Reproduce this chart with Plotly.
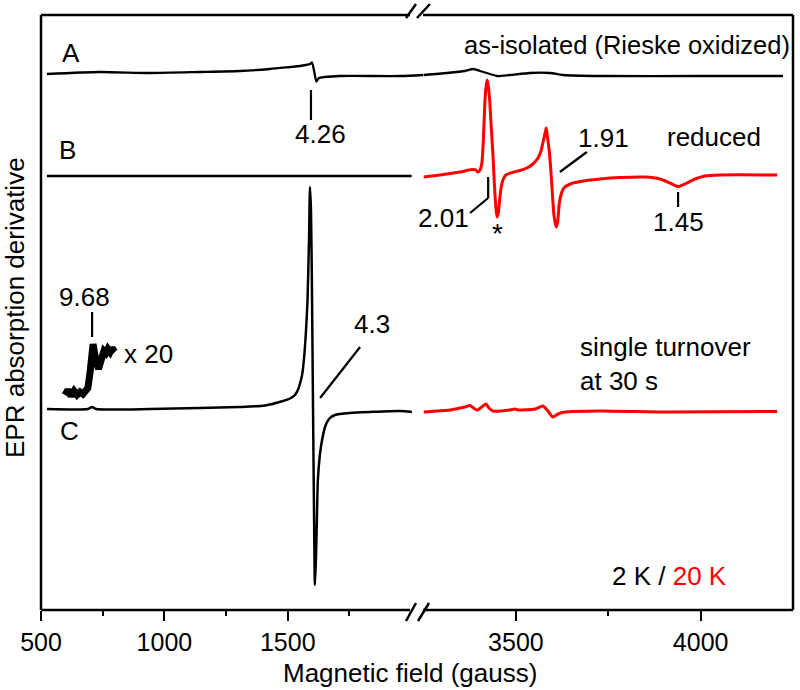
import plotly.graph_objects as go

# ---------------- data (field in gauss, signal in arbitrary units relative to each trace's baseline) ----------------
# Trace A: as-isolated, 2 K (black), spans both segments
a_left_field = [524, 739, 942, 1144, 1306, 1428, 1509, 1549, 1573, 1590, 1598, 1606, 1616, 1626, 1650, 1712, 1955, 2050]
a_left_sig   = [0.4, 0.8, 0.6, 0.8, 1.0, 1.4, 1.8, 2.0, 2.2, 2.4, 2.7, 1.2, -1.1, -0.4, -0.2, 0.0, 0.0, 0.2]
a_right_field = [3250, 3314, 3362, 3384, 3403, 3430, 3449, 3484, 3538, 3592, 3628, 3728, 3998, 4223]
a_right_sig   = [0.2, 0.6, 1.0, 1.4, 1.0, 0.4, 0.0, 0.2, 0.6, 0.6, 0.2, 0.0, 0.0, 0.0]

# Trace B: reduced; 2 K (black, low field) and 20 K (red, high field)
b_left_field = [524, 800, 1200, 1600, 2002]
b_left_sig   = [0.0, 0.0, 0.0, 0.0, 0.0]
b_right_field = [3250, 3295, 3349, 3381, 3392, 3397, 3403, 3408, 3412, 3416, 3419, 3422, 3425, 3429, 3433,
                 3438, 3442, 3446, 3449, 3452, 3456, 3460, 3465, 3473, 3490, 3511, 3530, 3546, 3560, 3568,
                 3573, 3579, 3582, 3584, 3590, 3595, 3599, 3603, 3609, 3613, 3617, 3622, 3630, 3647, 3674,
                 3728, 3782, 3850, 3890, 3917, 3939, 3960, 3985, 4012, 4053, 4207]
b_right_sig   = [-0.2, 0.2, 0.8, 1.3, 1.2, 0.8, 1.2, 2.6, 7.2, 14.6, 17.6, 19.2, 18.2, 15.2, 10.2,
                 4.2, -1.8, -6.4, -8.2, -7.6, -4.8, -2.4, -0.8, 0.2, 0.7, 1.1, 1.6, 2.4, 3.6, 5.0,
                 6.6, 8.6, 9.6, 8.6, 5.2, 0.8, -3.8, -7.8, -10.2, -9.2, -5.8, -3.8, -2.4, -1.6, -1.1,
                 -0.6, -0.3, -0.2, -0.6, -1.4, -2.1, -1.5, -0.6, 0.0, 0.2, 0.2]

# Trace C: single turnover at 30 s; 2 K (black) and 20 K (red)
c_left_field = [524, 690, 707, 723, 942, 1144, 1306, 1408, 1481, 1509, 1529, 1541, 1549, 1558, 1566, 1574,
                1580, 1586, 1590, 1594, 1598, 1602, 1606, 1610, 1614, 1618, 1622, 1630, 1639, 1651,
                1667, 1691, 1752, 1833, 1955, 2003]
c_left_sig   = [0.2, 0.2, 0.6, 0.2, 0.2, 0.4, 0.6, 0.9, 1.8, 2.3, 3.0, 4.0, 5.2, 7.0, 10.4, 16.0,
                22.0, 34.0, 44.6, 40.0, 24.0, 2.0, -18.6, -35.0, -30.0, -22.0, -14.0, -9.0, -6.0, -3.4,
                -1.8, -1.0, -0.6, -0.4, -0.2, -0.4]
# x 20 magnified low-field region (g = 9.68)
c_zoom_field = [597, 609, 622, 634, 646, 658, 670, 682, 690, 699, 705, 711, 719, 727, 733, 739, 747, 755,
                763, 771, 780, 788, 796, 800]
c_zoom_sig   = [3.0, 4.0, 2.8, 3.8, 3.0, 3.6, 3.2, 4.0, 4.4, 7.6, 11.6, 13.2, 10.8, 8.8, 8.2, 9.2, 10.8, 11.8,
                11.4, 12.2, 11.6, 12.4, 11.8, 11.6]
c_right_field = [3250, 3322, 3362, 3376, 3389, 3397, 3411, 3419, 3427, 3438, 3484, 3498, 3506, 3552, 3573,
                 3587, 3600, 3614, 3633, 3728, 3909, 4207]
c_right_sig   = [-0.4, 0.0, 0.6, 0.9, 0.2, 0.0, 0.8, 1.2, 0.4, -0.2, 0.0, 0.2, 0.0, 0.2, 0.8,
                 -0.2, -1.4, -0.8, -0.4, -0.2, -0.4, -0.3]

# vertical offsets of the stacked spectra
offset_a = 106.8
offset_b = 86.8
offset_c = 40.0

left_ticks = [500, 1000, 1500]
left_minor = [750, 1250, 1750]
right_ticks = [3500, 4000]
right_minor = [3750]

# ---------------- figure ----------------
BLACK = "#000000"
RED = "#ff0000"
FONT = "Liberation Sans, Arial, sans-serif"

def shift(vals, off):
    return [v + off for v in vals]

fig = go.Figure()
lw = 2.5
def sline(color, width):
    return dict(color=color, width=width, shape="spline", smoothing=0.6)

fig.add_trace(go.Scatter(x=a_left_field, y=shift(a_left_sig, offset_a), mode="lines",
                         line=sline(BLACK, 2.3), xaxis="x", yaxis="y"))
fig.add_trace(go.Scatter(x=a_right_field, y=shift(a_right_sig, offset_a), mode="lines",
                         line=sline(BLACK, 2.3), xaxis="x2", yaxis="y"))
fig.add_trace(go.Scatter(x=b_left_field, y=shift(b_left_sig, offset_b), mode="lines",
                         line=sline(BLACK, lw), xaxis="x", yaxis="y"))
fig.add_trace(go.Scatter(x=b_right_field, y=shift(b_right_sig, offset_b), mode="lines",
                         line=sline(RED, 3), xaxis="x2", yaxis="y"))
fig.add_trace(go.Scatter(x=c_left_field, y=shift(c_left_sig, offset_c), mode="lines",
                         line=sline(BLACK, lw), xaxis="x", yaxis="y"))
fig.add_trace(go.Scatter(x=c_zoom_field, y=shift(c_zoom_sig, offset_c), mode="lines",
                         line=dict(color=BLACK, width=7), xaxis="x", yaxis="y"))
fig.add_trace(go.Scatter(x=c_right_field, y=shift(c_right_sig, offset_c), mode="lines",
                         line=sline(RED, 3), xaxis="x2", yaxis="y"))

split = (423.5 - 41) / 752.0

axis_common = dict(showgrid=False, zeroline=False, showline=False, ticks="outside", ticklen=10,
                   tickwidth=2, tickcolor=BLACK, tickfont=dict(size=25, color=BLACK, family=FONT),
                   anchor="y")
fig.update_layout(
    width=800, height=690,
    margin=dict(l=41, r=7, t=15, b=80),
    paper_bgcolor="white", plot_bgcolor="white",
    showlegend=False,
    font=dict(family=FONT, color=BLACK, size=26),
    xaxis=dict(domain=[0, split], range=[500, 2050], tickmode="array", tickvals=left_ticks,
               minor=dict(tickvals=left_minor, ticks="outside", ticklen=5, tickwidth=2, tickcolor=BLACK),
               **axis_common),
    xaxis2=dict(domain=[split, 1], range=[3250, 4250], tickmode="array", tickvals=right_ticks,
                minor=dict(tickvals=right_minor, ticks="outside", ticklen=5, tickwidth=2, tickcolor=BLACK),
                **axis_common),
    yaxis=dict(range=[0, 119], showgrid=False, zeroline=False, showline=False, showticklabels=False,
               ticks=""),
)

def px2paper_x(px):
    return (px - 41) / 752.0

def px2paper_y(py):
    return (610 - py) / 595.0

shapes = []
fw = 2.5
def pline(x0, y0, x1, y1, w=fw):
    shapes.append(dict(type="line", xref="paper", yref="paper",
                       x0=px2paper_x(x0), y0=px2paper_y(y0), x1=px2paper_x(x1), y1=px2paper_y(y1),
                       line=dict(color=BLACK, width=w)))

# frame with break
pline(41, 15, 41, 610)
pline(793, 15, 793, 610)
pline(41, 15, 410, 15)
pline(423, 15, 793, 15)
pline(41, 610, 410, 610)
pline(423, 610, 793, 610)
# break marks
pline(406, 18, 416, 4)
pline(417, 18, 430, 4)
pline(406, 621, 416, 603)
pline(418, 621, 429, 603)

def dline(xref, xs, ys, w=2.2):
    for i in range(len(xs) - 1):
        shapes.append(dict(type="line", xref=xref, yref="y", x0=xs[i], y0=ys[i], x1=xs[i + 1], y1=ys[i + 1],
                           line=dict(color=BLACK, width=w)))

# marker lines for g-values
dline("x", [1594, 1594], [104, 98])          # 4.26
dline("x", [707, 707], [59.6, 54.6])         # 9.68
dline("x", [1793, 1631], [52.6, 42.4])       # 4.3
dline("x2", [3425, 3425, 3376], [86.6, 82.4, 79.4])  # 2.01
dline("x2", [3692, 3619], [91.6, 87.6])      # 1.91
dline("x2", [3939, 3939], [83.6, 80.6])      # 1.45

fig.update_layout(shapes=shapes)

ann = []
def txt(x, y, s, xref, yref="y", xanchor="center", yanchor="middle", size=26, align="center", angle=0):
    ann.append(dict(x=x, y=y, text=s, xref=xref, yref=yref, xanchor=xanchor, yanchor=yanchor,
                    showarrow=False, font=dict(size=size, color=BLACK, family=FONT), align=align,
                    textangle=angle))

txt(622, 111.4, "A", "x")
txt(609, 92, "B", "x")
txt(617, 35.8, "C", "x")
txt(1631, 95.2, "4.26", "x")
txt(678, 62.6, "9.68", "x")
txt(828, 51.2, "x 20", "x", xanchor="left")
txt(1841, 57.2, "4.3", "x")
txt(3305, 78.4, "2.01", "x2")
txt(3449, 75.4, "*", "x2", size=28)
txt(3736, 94.4, "1.91", "x2")
txt(4036, 94.6, "reduced", "x2")
txt(3939, 77.6, "1.45", "x2")
txt(4246, 113, "as-isolated (Rieske oxidized)", "x2", xanchor="right", size=25.5)
txt(3668, 49.3, "single turnover<br>at 30 s", "x2", xanchor="left", align="left")
txt(3915, 6.8, "2 K / <span style='color:#ff0000'>20 K</span>", "x2")
# axis titles
txt(px2paper_x(409.5), px2paper_y(673), "Magnetic field (gauss)", "paper", yref="paper")
txt(px2paper_x(15), px2paper_y(308), "EPR absorption derivative", "paper", yref="paper", angle=-90)

fig.update_layout(annotations=ann)

fig.write_html("out.html", config={"displayModeBar": False},
               post_script="document.body.style.margin='0';document.body.style.overflow='hidden';")
